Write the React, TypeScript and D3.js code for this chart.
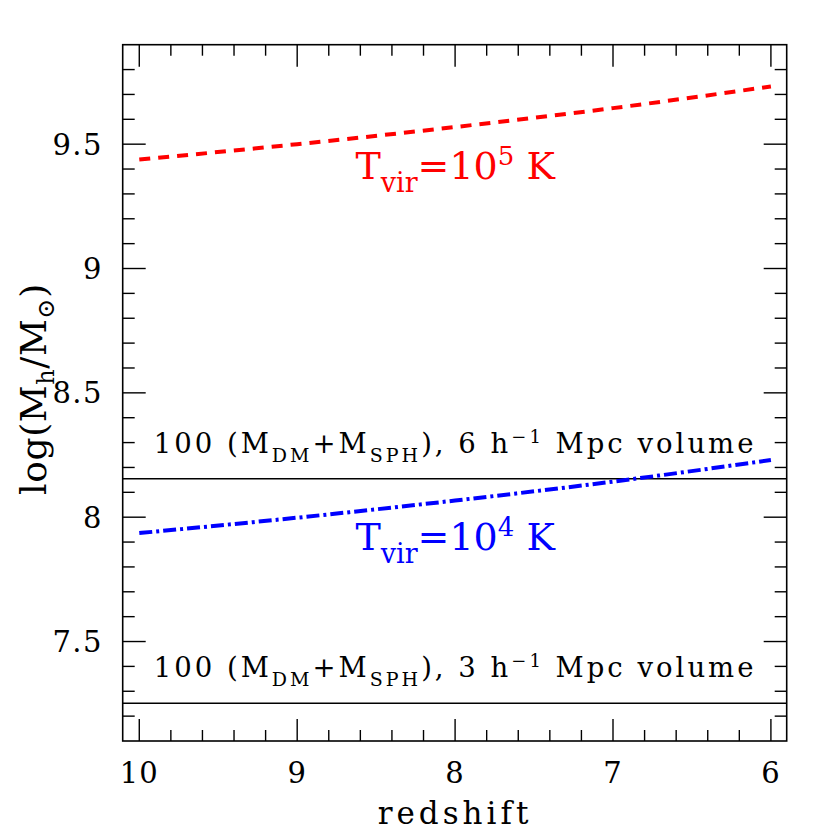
import React from 'react';
import * as d3 from 'd3';

// redshift samples (x) and halo masses log(Mh/Msun)
const redshift = [10, 9, 8, 7, 6];
const tvir1e5 = [9.438, 9.5, 9.569, 9.645, 9.732];
const tvir1e4 = [7.936, 7.998, 8.067, 8.143, 8.23];

// 100 particle mass thresholds for the two box sizes
const boxLabels = ['6', '3'];
const boxLimits = [8.155, 7.252];

const xTicks = [10, 9, 8, 7, 6];
const yTicks = [7.5, 8, 8.5, 9, 9.5];

const FONT = '"DejaVu Serif", serif';

function App() {
  const width = 830;
  const height = 830;
  const left = 122.7;
  const right = 786.7;
  const top = 44.7;
  const bottom = 741;

  const x = d3.scaleLinear().domain([10.105, 5.9]).range([left, right]);
  const y = d3.scaleLinear().domain([7.1, 9.9]).range([bottom, top]);

  const line = d3
    .line<number>()
    .x((_, i) => x(redshift[i]))
    .y(d => y(d))
    .curve(d3.curveMonotoneX);

  const xMinor = d3.range(60, 101, 2).map(v => v / 10).filter(v => !xTicks.includes(v));
  const yMinor = d3.range(72, 99, 1).map(v => v / 10).filter(v => !yTicks.includes(v));

  const tickColor = '#000';
  const sw = 1.4;

  return (
    <svg
      width={width}
      height={height}
      style={{ position: 'absolute', left: 0, top: 0, background: '#fff' }}
      fontFamily={FONT}
    >
      {/* x ticks: bottom and top, inward */}
      {xTicks.map(t => (
        <g key={'xm' + t} stroke={tickColor} strokeWidth={sw}>
          <line x1={x(t)} x2={x(t)} y1={bottom} y2={bottom - 22} />
          <line x1={x(t)} x2={x(t)} y1={top} y2={top + 22} />
        </g>
      ))}
      {xMinor.map(t => (
        <g key={'xn' + t} stroke={tickColor} strokeWidth={sw}>
          <line x1={x(t)} x2={x(t)} y1={bottom} y2={bottom - 11} />
          <line x1={x(t)} x2={x(t)} y1={top} y2={top + 11} />
        </g>
      ))}
      {yTicks.map(t => (
        <g key={'ym' + t} stroke={tickColor} strokeWidth={sw}>
          <line x1={left} x2={left + 23} y1={y(t)} y2={y(t)} />
          <line x1={right} x2={right - 23} y1={y(t)} y2={y(t)} />
        </g>
      ))}
      {yMinor.map(t => (
        <g key={'yn' + t} stroke={tickColor} strokeWidth={sw}>
          <line x1={left} x2={left + 12} y1={y(t)} y2={y(t)} />
          <line x1={right} x2={right - 12} y1={y(t)} y2={y(t)} />
        </g>
      ))}

      {/* frame */}
      <rect x={left} y={top} width={right - left} height={bottom - top} fill="none" stroke="#000" strokeWidth={1.6} />

      {/* tick labels */}
      {xTicks.map(t => (
        <text key={'xl' + t} x={x(t)} y={783} textAnchor="middle" fontSize={29} letterSpacing={1} fill="#000">
          {t}
        </text>
      ))}
      {yTicks.map(t => (
        <text key={'yl' + t} x={103} y={y(t) + 10.5} textAnchor="end" fontSize={29} letterSpacing={1.5} fill="#000">
          {t}
        </text>
      ))}

      {/* axis titles */}
      <text x={455} y={824} textAnchor="middle" fontSize={31} letterSpacing={4} fill="#000">
        redshift
      </text>
      <text transform="translate(46,389) rotate(-90)" textAnchor="middle" fontSize={36} letterSpacing={0.6} fill="#000">
        log(M
        <tspan fontSize={24} dy={8}>h</tspan>
        <tspan dy={-8}>/M</tspan>
        <tspan fontSize={24} dy={8}>⊙</tspan>
        <tspan dy={-8}>)</tspan>
      </text>

      {/* resolution limits */}
      {boxLimits.map((v, i) => (
        <g key={'lim' + i}>
          <line x1={left} x2={right} y1={y(v)} y2={y(v)} stroke="#000" strokeWidth={1.5} />
          <text x={x(8)} y={y(v + 0.104)} textAnchor="middle" fontSize={27.5} letterSpacing={3} fill="#000">
            100 (M
            <tspan fontSize={19} dy={9}>DM</tspan>
            <tspan dy={-9}>+M</tspan>
            <tspan fontSize={19} dy={9}>SPH</tspan>
            <tspan dy={-9}>), {boxLabels[i]} h</tspan>
            <tspan fontSize={18} dy={-10}>−1</tspan>
            <tspan dy={10}> Mpc volume</tspan>
          </text>
        </g>
      ))}

      {/* virial temperature curves */}
      <path d={line(tvir1e5) ?? ''} fill="none" stroke="#ff0000" strokeWidth={4} strokeDasharray="11 8" />
      <path d={line(tvir1e4) ?? ''} fill="none" stroke="#0000ff" strokeWidth={4} strokeDasharray="13 4 3 4" />

      <text x={x(8)} y={y(9.358)} textAnchor="middle" fontSize={38} fill="#ff0000">
        T
        <tspan fontSize={27} dy={13}>vir</tspan>
        <tspan dy={-13}>=10</tspan>
        <tspan fontSize={26} dy={-14}>5</tspan>
        <tspan dy={14}> K</tspan>
      </text>
      <text x={x(8)} y={y(7.869)} textAnchor="middle" fontSize={38} fill="#0000ff">
        T
        <tspan fontSize={27} dy={13}>vir</tspan>
        <tspan dy={-13}>=10</tspan>
        <tspan fontSize={26} dy={-14}>4</tspan>
        <tspan dy={14}> K</tspan>
      </text>
    </svg>
  );
}

export default App;
